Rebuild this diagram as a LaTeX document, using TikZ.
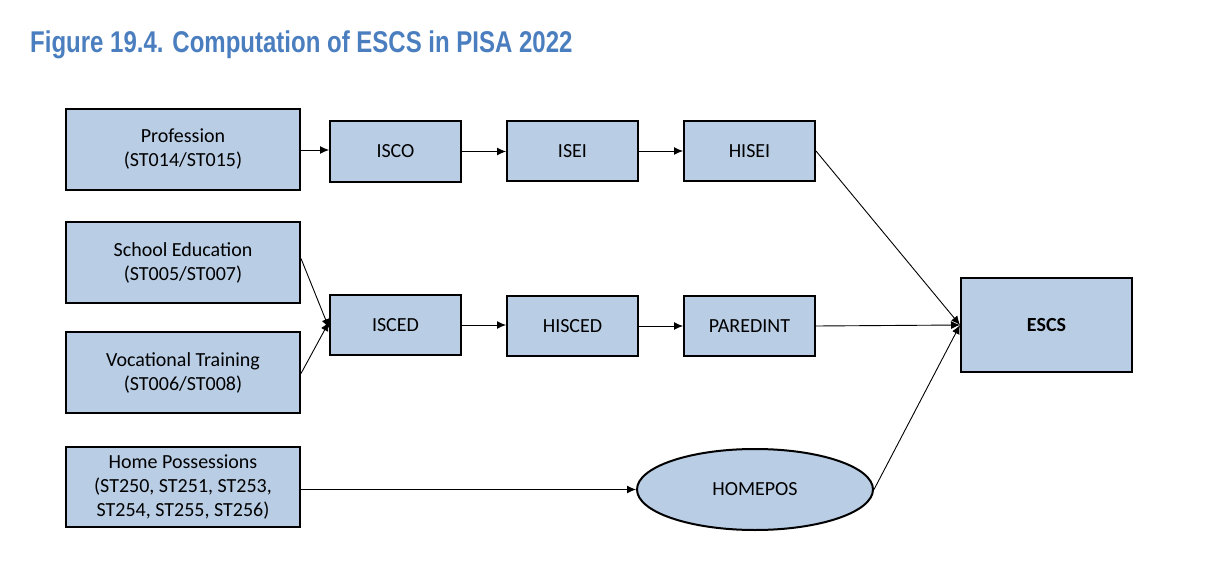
\documentclass[tikz,border=0pt]{standalone}
\usepackage{fontspec}
\setmainfont{Carlito}
\newfontfamily\titlefont[FakeStretch=0.80]{Liberation Sans}
\usetikzlibrary{arrows.meta,shapes.geometric}
\definecolor{boxfill}{HTML}{B9CDE5}
\definecolor{titleblue}{HTML}{4A7EBF}
\tikzset{
  box/.style={draw=black,line width=2pt,fill=boxfill,inner sep=0pt,align=center,font=\fontsize{20}{24}\selectfont},
  conn/.style={line width=0.9pt,-{Latex[length=9pt,width=8pt]}}
}
\begin{document}
\begin{tikzpicture}[x=1pt,y=-1pt]
\useasboundingbox (0,0) rectangle (1224,564);
\node[anchor=base west,text=titleblue,font=\titlefont\bfseries\fontsize{30}{34}\selectfont,inner sep=0pt] (title) at (30,53) {Figure 19.4. Computation of ESCS in PISA 2022};
% left column
\node[box,minimum width=234pt,minimum height=81pt] (prof) at (183,149.5) {Profession\\(ST014/ST015)};
\node[box,minimum width=234pt,minimum height=81pt] (school) at (183,262.5) {School Education\\(ST005/ST007)};
\node[box,minimum width=234pt,minimum height=81pt] (voc) at (183,372.5) {Vocational Training\\(ST006/ST008)};
\node[box,minimum width=234pt,minimum height=80pt] (home) at (183,487) {Home Possessions\\(ST250, ST251, ST253,\\ST254, ST255, ST256)};
% row 1
\node[box,minimum width=131pt,minimum height=61pt] (isco) at (395.5,151.5) {ISCO};
\node[box,minimum width=131pt,minimum height=60pt] (isei) at (572.5,151) {ISEI};
\node[box,minimum width=131pt,minimum height=60pt] (hisei) at (749.5,151) {HISEI};
% row 2
\node[box,minimum width=131pt,minimum height=60pt] (isced) at (395.5,325) {ISCED};
\node[box,minimum width=131pt,minimum height=60pt] (hisced) at (572.5,326) {HISCED};
\node[box,minimum width=131pt,minimum height=60pt] (paredint) at (749.5,326) {PAREDINT};
% ESCS
\node[box,minimum width=171pt,minimum height=94pt,font=\fontsize{20}{24}\selectfont\bfseries] (escs) at (1046.5,325) {ESCS};
% HOMEPOS
\node[box,ellipse,minimum width=236pt,minimum height=81pt] (homepos) at (755,489.5) {HOMEPOS};
% connectors
\draw[conn] (prof.east |- 0,150) -- (isco.west |- 0,150);
\draw[conn] (isco.east) -- (isei.west |- isco.east);
\draw[conn] (isei.east) -- (hisei.west);
\draw[conn] ([yshift=4pt]school.east) -- ([yshift=-3pt]isced.west);
\draw[conn] ([yshift=-1pt]voc.east) -- ([yshift=3pt]isced.west);
\draw[conn] (isced.east) -- (hisced.west |- isced.east);
\draw[conn] (hisced.east) -- (paredint.west);
\draw[conn] (paredint.east) -- (escs.west);
\draw[conn] (hisei.east) -- (escs.west);
\draw[conn] (homepos.east) -- (escs.west);
\draw[conn] (home.east |- homepos.west) -- (homepos.west);
\end{tikzpicture}
\end{document}
